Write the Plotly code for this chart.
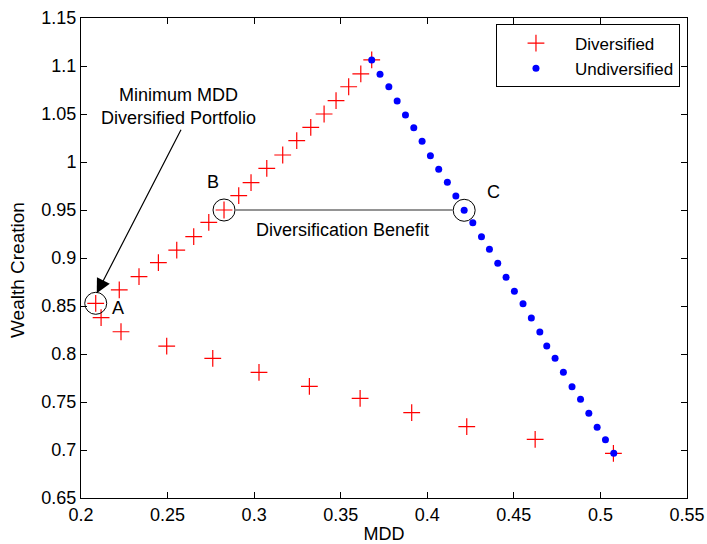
import plotly.graph_objects as go

# Diversified portfolios (MDD, Wealth Creation)
div_mdd = [0.5075, 0.4623, 0.4228, 0.3910, 0.3612, 0.3319, 0.3028, 0.2761, 0.2495,
           0.2231, 0.2116, 0.2085, 0.2221, 0.2335, 0.2447, 0.2553, 0.2651, 0.2738,
           0.2826, 0.2911, 0.2982, 0.3073, 0.3165, 0.3246, 0.3327, 0.3404, 0.3473,
           0.3546, 0.3616, 0.3679]
div_wealth = [0.6965, 0.7111, 0.7243, 0.7389, 0.7538, 0.7663, 0.7809, 0.7955, 0.8083,
              0.8232, 0.8378, 0.8528, 0.8667, 0.8805, 0.8951, 0.9083, 0.9222, 0.9372,
              0.9500, 0.9649, 0.9785, 0.9934, 1.0073, 1.0222, 1.0361, 1.0500, 1.0639,
              1.0784, 1.0917, 1.1063]

# Undiversified portfolios
und_mdd = [0.3679, 0.3727, 0.3778, 0.3826, 0.3874, 0.3922, 0.3970, 0.4018, 0.4066,
           0.4116, 0.4165, 0.4213, 0.4263, 0.4313, 0.4359, 0.4407, 0.4455, 0.4503,
           0.4553, 0.4601, 0.4650, 0.4690, 0.4738, 0.4786, 0.4836, 0.4885, 0.4933,
           0.4981, 0.5029, 0.5077]
und_wealth = [1.1063, 1.0914, 1.0784, 1.0635, 1.0490, 1.0357, 1.0216, 1.0066, 0.9924,
              0.9789, 0.9646, 0.9497, 0.9368, 0.9222, 0.9091, 0.8945, 0.8799, 0.8653,
              0.8524, 0.8375, 0.8229, 0.8083, 0.7955, 0.7809, 0.7659, 0.7528, 0.7382,
              0.7236, 0.7107, 0.6965]

# Highlighted points A, B, C
hl_labels = ["A", "B", "C"]
hl_mdd = [0.2085, 0.2826, 0.4213]
hl_wealth = [0.8528, 0.9500, 0.9497]

x_ticks = [0.2, 0.25, 0.3, 0.35, 0.4, 0.45, 0.5, 0.55]
x_ticktext = ["0.2", "0.25", "0.3", "0.35", "0.4", "0.45", "0.5", "0.55"]
y_ticks = [0.65, 0.7, 0.75, 0.8, 0.85, 0.9, 0.95, 1.0, 1.05, 1.1, 1.15]
y_ticktext = ["0.65", "0.7", "0.75", "0.8", "0.85", "0.9", "0.95", "1", "1.05", "1.1", "1.15"]

FONT = "Liberation Sans, Arial, sans-serif"

fig = go.Figure()
fig.add_trace(go.Scatter(
    x=div_mdd, y=div_wealth, mode="markers", name="Diversified",
    marker=dict(symbol="cross-thin-open", size=12, color="#ff0000",
                line=dict(color="#ff0000", width=1.2)),
))
fig.add_trace(go.Scatter(
    x=und_mdd, y=und_wealth, mode="markers", name="Undiversified",
    marker=dict(symbol="circle", size=7, color="#0000ff"),
))
fig.add_trace(go.Scatter(
    x=hl_mdd, y=hl_wealth, mode="markers", showlegend=False,
    marker=dict(symbol="circle-open", size=22, color="black",
                line=dict(color="black", width=1)),
))

# Diversification benefit line between B and C circles
fig.add_shape(type="line", x0=hl_mdd[1] + 0.0066, y0=hl_wealth[1],
              x1=hl_mdd[2] - 0.0066, y1=hl_wealth[1],
              line=dict(color="#707070", width=1.5))

ann_font = dict(family=FONT, size=18, color="black")
fig.add_annotation(x=0.3508, y=0.9292, text="Diversification Benefit",
                   showarrow=False, font=ann_font)
fig.add_annotation(x=0.2212, y=0.8476, text=hl_labels[0], showarrow=False, font=ann_font)
fig.add_annotation(x=0.2764, y=0.9795, text=hl_labels[1], showarrow=False, font=ann_font)
fig.add_annotation(x=0.4382, y=0.9684, text=hl_labels[2], showarrow=False, font=ann_font)
fig.add_annotation(x=0.2563, y=1.0583, text="Minimum MDD<br>Diversified Portfolio",
                   showarrow=False, font=ann_font)
fig.add_annotation(x=0.2091, y=0.8632, ax=0.2582, ay=1.0351, axref="x", ayref="y",
                   xref="x", yref="y", text="", showarrow=True,
                   arrowhead=2, arrowsize=2.4, arrowwidth=1.2, arrowcolor="black")

# Y-axis title as annotation (positioned like the reference)
fig.add_annotation(xref="paper", yref="paper", x=0, y=0.475, xshift=-64,
                   text="Wealth Creation", textangle=-90, showarrow=False,
                   xanchor="center", yanchor="middle",
                   font=dict(family=FONT, size=19, color="black"))

axis_common = dict(showline=True, linecolor="black", linewidth=1, mirror="ticks",
                   ticks="inside", ticklen=6, tickcolor="black", showgrid=False,
                   zeroline=False, automargin=False,
                   tickfont=dict(family=FONT, size=18, color="black"))

fig.update_xaxes(range=[0.2, 0.55], tickvals=x_ticks, ticktext=x_ticktext,
                 title=dict(text="MDD", font=dict(family=FONT, size=18, color="black"),
                            standoff=3),
                 **axis_common)
fig.update_yaxes(range=[0.65, 1.15], tickvals=y_ticks, ticktext=y_ticktext,
                 **axis_common)

fig.update_layout(
    width=707, height=544,
    margin=dict(l=81, r=20, t=18, b=46),
    plot_bgcolor="white", paper_bgcolor="white",
    font=dict(family=FONT, size=17, color="black"),
    legend=dict(x=0.9884, y=0.9865, xanchor="right", yanchor="top",
                bgcolor="white", bordercolor="black", borderwidth=1,
                font=dict(family=FONT, size=17, color="black"),
                itemwidth=68, tracegroupgap=0),
)

fig.write_html("out.html", config={"displayModeBar": False},
               post_script="document.body.style.margin='0';")
